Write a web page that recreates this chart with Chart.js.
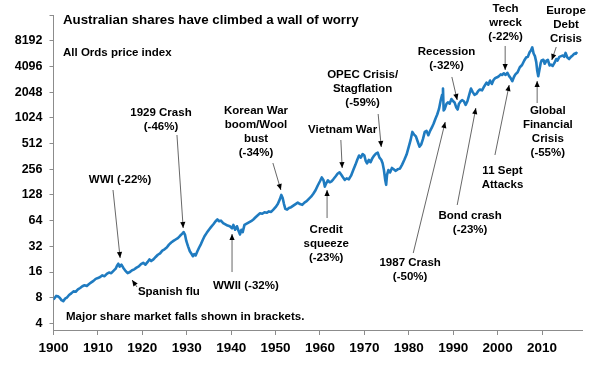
<!DOCTYPE html>
<html><head><meta charset="utf-8">
<script src="https://cdn.jsdelivr.net/npm/chart.js@4"></script>
<style>html,body{margin:0;padding:0;background:#fff}#wrap{width:596px;height:367px}</style>
</head><body><div id="wrap"><canvas id="c" width="596" height="367"></canvas></div>
<script>
// All Ords price index (log scale)
const years = [
 1900,1900.3,1900.6,1901,1901.4,1901.8,1902.2,1902.6,1903,1903.5,1904,1904.5,1905,1905.5,1906,1906.5,1907,1907.5,1908,1908.5,1909,1909.5,
 1910,1910.5,1911,1911.5,1912,1912.5,1913,1913.5,1914,1914.3,1914.6,1914.9,1915.3,1915.7,1916.2,1916.7,1917.2,1917.7,1918.2,1918.7,1919.2,1919.7,
 1920.2,1920.7,1921.2,1921.6,1922,1922.5,1923,1923.5,1924,1924.5,1925,1925.5,1926,1926.5,1927,1927.5,1928,1928.5,1929,1929.3,1929.6,1929.9,
 1930.3,1930.7,1931.1,1931.4,1931.7,1932,1932.4,1932.8,1933.2,1933.6,1934,1934.5,1935,1935.5,1936,1936.5,1936.9,1937.3,1937.7,1938.2,1938.7,1939.2,1939.7,
 1940.2,1940.5,1940.9,1941.3,1941.7,1942,1942.3,1942.6,1943,1943.5,1944,1944.5,1945,1945.5,1946,1946.5,1947,1947.5,1948,1948.5,1949,1949.5,
 1950,1950.5,1951,1951.3,1951.6,1951.9,1952.2,1952.6,1953,1953.5,1954,1954.5,1955,1955.5,1956,1956.5,1957,1957.5,1958,1958.5,1959,1959.5,
 1960,1960.4,1960.8,1961.1,1961.4,1961.8,1962.2,1962.6,1963,1963.5,1964,1964.4,1964.8,1965.2,1965.6,1966,1966.5,1967,1967.5,1968,1968.4,1968.8,1969.2,1969.6,
 1970,1970.3,1970.6,1971,1971.4,1971.8,1972.2,1972.6,1973,1973.4,1973.8,1974.1,1974.4,1974.7,1974.9,1975.1,1975.4,1975.8,1976.2,1976.6,1977,1977.5,1978,1978.5,1979,1979.5,
 1980,1980.4,1980.8,1981.2,1981.6,1982,1982.4,1982.8,1983.2,1983.6,1984,1984.4,1984.8,1985.2,1985.6,1986,1986.4,1986.8,1987.2,1987.5,1987.7,1987.85,1988.1,1988.5,1988.8,1989.2,1989.6,
 1990,1990.3,1990.7,1991,1991.3,1991.7,1992,1992.4,1992.8,1993.2,1993.6,1994,1994.4,1994.8,1995.2,1995.6,1996,1996.5,1997,1997.5,1997.9,1998.3,1998.7,1999.1,1999.5,1999.9,
 2000.3,2000.7,2001,2001.4,2001.8,2002.2,2002.6,2003,2003.3,2003.7,2004,2004.5,2005,2005.5,2006,2006.4,2006.8,2007.2,2007.5,2007.8,2008.1,2008.4,2008.7,2008.9,2009.15,2009.4,2009.7,2009.9,
 2010.3,2010.6,2011,2011.3,2011.7,2012,2012.4,2012.8,2013.2,2013.5,2013.9,2014.3,2014.7,2015,2015.3,2015.7,2016.1,2016.5,2016.9,2017.3,2017.6,2017.9
];
const allOrds = [
 7.6,8.0,8.4,8.3,8.0,7.5,7.3,7.8,8.0,8.6,9.0,9.5,9.4,10.0,10.4,10.9,11.2,11.0,11.6,12.1,12.6,13.3,
 13.6,14.0,14.6,14.3,15.2,15.8,15.5,16.5,17.5,19.0,20.0,18.5,19.5,18.0,16.5,15.5,16.0,16.8,17.2,18.0,18.6,19.8,
 20.5,19.5,21.0,22.5,21.5,22.5,24.0,25.5,26.5,28.5,29.5,31.0,33.5,35.5,37.0,38.5,40.0,42.5,45.0,47.0,44.0,37.0,
 32,28,26,24.5,26,25,28,31,34,38,42,46,50,54,58,63,66,63,64,60,58,56,55,
 52,57,50,55,48,44,50,47,57,59,61,63,66,70,74,78,77,80,79,82,81,86,
 92,100,115,128,118,100,88,86,90,92,96,100,104,100,98,104,108,115,122,132,145,165,
 185,205,190,160,175,190,180,185,195,210,228,235,220,205,192,200,195,215,250,290,330,370,350,385,
 370,320,300,330,310,345,370,390,400,350,330,300,250,190,168,220,250,235,265,255,245,255,260,290,330,380,
 470,560,700,650,620,540,470,500,580,700,720,640,720,790,880,1000,1120,1300,1650,1900,2250,1250,1300,1500,1550,1500,1700,
 1600,1550,1350,1280,1500,1600,1650,1600,1450,1600,1900,2250,2050,1900,1950,2100,2200,2150,2400,2650,2500,2800,2550,2850,3000,3050,
 3150,3300,3250,3400,3250,3450,3150,2950,2750,3100,3300,3500,4000,4250,4800,5200,5300,6000,6300,6850,5800,5400,4600,3700,3150,3700,4500,4800,
 4900,4400,4800,4900,4200,4300,4150,4500,5000,4800,5300,5400,5500,5300,5900,5200,5000,5300,5500,5800,5750,6050
];
const xTicks = [1900,1910,1920,1930,1940,1950,1960,1970,1980,1990,2000,2010];
const xTickLabels = ['1900','1910','1920','1930','1940','1950','1960','1970','1980','1990','2000','2010'];
const yTicks = [4,8,16,32,64,128,256,512,1024,2048,4096,8192,16384];
const yTickLabels = ['4','8','16','32','64','128','256','512','1024','2048','4096','8192',''];

// annotation texts; positions are given in data space: year and log2(index)
const annotations = [
 {text:['1929 Crash','(-46%)'], x:1924.2, e:10.187, arrow:[[1927.8,9.331],[1929.2,5.712]]},
 {text:['Korean War','boom/Wool','bust','(-34%)'], x:1945.6, e:10.265, arrow:[[1949.4,8.241],[1951.2,7.191]]},
 {text:['WWI (-22%)'], x:1915.0, e:7.580, arrow:[[1913.4,7.191],[1915.0,4.545]]},
 {text:['Spanish flu'], x:1919.0, e:3.222, align:'left', arrow:[[1918.8,3.416],[1917.7,3.689]]},
 {text:['WWII (-32%)'], x:1935.9, e:3.455, align:'left', arrow:[[1940.2,4.0],[1940.2,5.479]]},
 {text:['Vietnam War'], x:1965.1, e:9.525, arrow:[[1964.7,9.136],[1965.0,8.047]]},
 {text:['Credit','squeeze','(-23%)'], x:1961.4, e:5.634, arrow:[[1961.6,6.101],[1961.6,7.191]]},
 {text:['OPEC Crisis/','Stagflation','(-59%)'], x:1969.6, e:11.665, arrow:[[1973.1,10.148],[1973.8,8.864]]},
 {text:['Recession','(-32%)'], x:1988.5, e:12.560, arrow:[[1989.7,11.588],[1990.9,10.693]]},
 {text:['Tech','wreck','(-22%)'], x:2001.8, e:14.233, arrow:[[2001.7,12.794],[2001.7,11.860]]},
 {text:['Europe','Debt','Crisis'], x:2015.4, e:14.156, arrow:[[2013.2,12.755],[2012.2,12.249]]},
 {text:['Global','Financial','Crisis','(-55%)'], x:2011.3, e:10.265, arrow:[[2008.9,10.576],[2008.9,11.432]]},
 {text:['11 Sept','Attacks'], x:2001.1, e:7.930, arrow:[[1999.4,8.553],[2002.6,11.276]]},
 {text:['Bond crash','(-23%)'], x:1993.8, e:6.179, arrow:[[1990.9,6.607],[1995.1,10.381]]},
 {text:['1987 Crash','(-50%)'], x:1980.3, e:4.350, arrow:[[1981.0,4.739],[1988.2,9.837]]},
 {text:['Australian shares have climbed a wall of worry'], x:1902.14, e:13.805, align:'left', size:13.3},
 {text:['All Ords price index'], x:1902.14, e:12.533, align:'left'},
 {text:['Major share market falls shown in brackets.'], x:1902.81, e:2.249, align:'left'}
];

const FONT = '"Liberation Sans", Arial, sans-serif';
const annotPlugin = {
 id:'annot',
 afterDatasetsDraw(chart){
  const ctx = chart.ctx, xs = chart.scales.x, ys = chart.scales.y;
  const P = (yr, e) => [xs.getPixelForValue(yr), ys.getPixelForValue(Math.pow(2, e))];
  ctx.save();
  annotations.forEach(a => {
   const [px, py] = P(a.x, a.e);
   ctx.font = 'bold ' + (a.size || 11.5) + 'px ' + FONT;
   ctx.fillStyle = '#000';
   ctx.textAlign = a.align || 'center';
   ctx.textBaseline = 'middle';
   a.text.forEach((t, i) => ctx.fillText(t, px, py + i * 14));
   if (a.arrow) {
    const [x1, y1] = P(a.arrow[0][0], a.arrow[0][1]);
    const [x2, y2] = P(a.arrow[1][0], a.arrow[1][1]);
    ctx.strokeStyle = '#404040'; ctx.lineWidth = 0.8;
    ctx.beginPath(); ctx.moveTo(x1, y1); ctx.lineTo(x2, y2); ctx.stroke();
    const ang = Math.atan2(y2 - y1, x2 - x1), L = 6, W = 2.6;
    ctx.fillStyle = '#000';
    ctx.beginPath();
    ctx.moveTo(x2, y2);
    ctx.lineTo(x2 - L * Math.cos(ang) + W * Math.sin(ang), y2 - L * Math.sin(ang) - W * Math.cos(ang));
    ctx.lineTo(x2 - L * Math.cos(ang) - W * Math.sin(ang), y2 - L * Math.sin(ang) + W * Math.cos(ang));
    ctx.closePath(); ctx.fill();
   }
  });
  ctx.restore();
 }
};

new Chart(document.getElementById('c').getContext('2d'), {
 type:'line',
 data:{datasets:[{data: years.map((x, i) => ({x: x, y: allOrds[i]})), borderColor:'#1f7bc0', borderWidth:2.6,
   pointRadius:0, tension:0, fill:false, borderJoinStyle:'round'}]},
 options:{
  responsive:false, animation:false, devicePixelRatio:1,
  layout:{padding:{left:0, right:14, top:15, bottom:0}},
  plugins:{legend:{display:false}, tooltip:{enabled:false}, title:{display:false}},
  scales:{
   x:{type:'linear', min:1900, max:2019,
    afterBuildTicks: s => { s.ticks = xTicks.map(v => ({value:v})); },
    afterFit: s => { s.height = 37; },
    grid:{drawOnChartArea:false, tickLength:5, color:'#8c8c8c'},
    border:{color:'#8c8c8c', width:1},
    ticks:{font:{family:FONT, size:13.5, weight:'bold'}, color:'#000', padding:5, maxRotation:0, autoSkip:false,
     callback:(v, i) => xTickLabels[i]}
   },
   y:{type:'logarithmic', min:3.35, max:16384,
    afterBuildTicks: s => { s.ticks = yTicks.map(v => ({value:v})); },
    afterFit: s => { s.width = 53.5; },
    grid:{drawOnChartArea:false, tickLength:4, color:'#8c8c8c'},
    border:{color:'#8c8c8c', width:1},
    ticks:{font:{family:FONT, size:12.5, weight:'bold'}, color:'#000', padding:7, autoSkip:false,
     callback:(v, i) => yTickLabels[i]}
   }
  }
 },
 plugins:[annotPlugin]
});
</script></body></html>
